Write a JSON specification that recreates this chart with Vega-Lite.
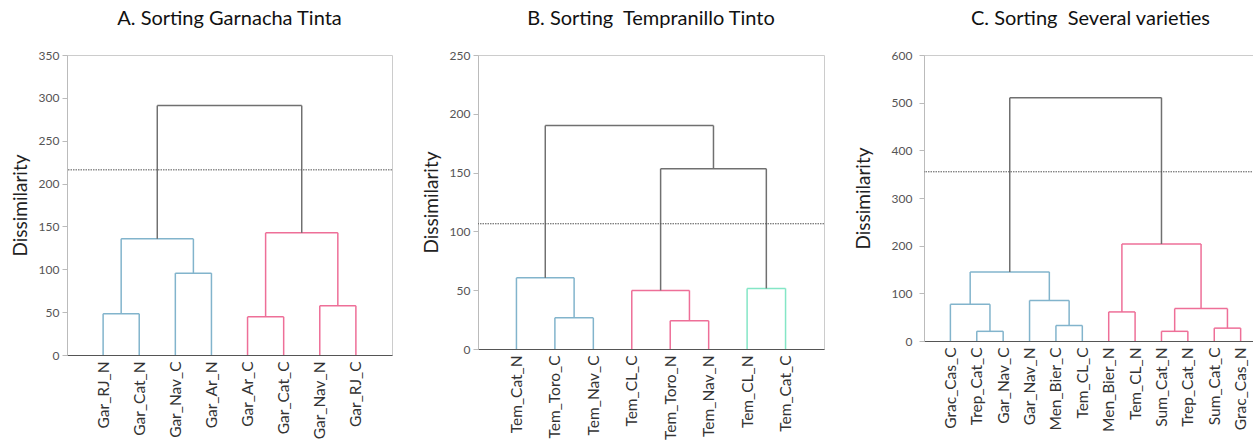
{
  "$schema": "https://vega.github.io/schema/vega-lite/v6.json",
  "padding": {"left": 10, "top": 8, "right": 0, "bottom": 0},
  "background": "white",
  "spacing": 28,
  "config": {
    "font": "Lato",
    "view": {"stroke": "#cccccc", "strokeWidth": 1},
    "title": {"fontSize": 20, "fontWeight": "normal", "color": "#111111", "offset": 20, "font": "Lato"},
    "axisY": {"grid": false, "labelColor": "#555555", "labelFontSize": 12, "tickColor": "#bbbbbb", "tickSize": 5, "domainColor": "#bbbbbb", "titleFontSize": 19, "titleFontWeight": "normal", "titleColor": "#222222", "titlePadding": 8, "labelPadding": 3},
    "axisX": {"grid": false, "ticks": false, "domainColor": "#555555", "domainWidth": 1.2, "labelAngle": 270, "labelFontSize": 15.5, "labelColor": "#333333", "labelPadding": 6, "labelOverlap": false, "title": null},
    "rule": {"strokeWidth": 1.5}
  },
  "datasets": {
    "A": [
      {"xl": 1, "xr": 2, "hl": 0, "hr": 0, "h": 48, "grp": "c1"},
      {"xl": 3, "xr": 4, "hl": 0, "hr": 0, "h": 95.5, "grp": "c1"},
      {"xl": 1.5, "xr": 3.5, "hl": 48, "hr": 95.5, "h": 135.5, "grp": "c1"},
      {"xl": 5, "xr": 6, "hl": 0, "hr": 0, "h": 44.5, "grp": "c2"},
      {"xl": 7, "xr": 8, "hl": 0, "hr": 0, "h": 57.5, "grp": "c2"},
      {"xl": 5.5, "xr": 7.5, "hl": 44.5, "hr": 57.5, "h": 142.5, "grp": "c2"},
      {"xl": 2.5, "xr": 6.5, "hl": 135.5, "hr": 142.5, "h": 291, "grp": "top"}
    ],
    "B": [
      {"xl": 2, "xr": 3, "hl": 0, "hr": 0, "h": 26.5, "grp": "c1"},
      {"xl": 1, "xr": 2.5, "hl": 0, "hr": 26.5, "h": 60.5, "grp": "c1"},
      {"xl": 5, "xr": 6, "hl": 0, "hr": 0, "h": 24, "grp": "c2"},
      {"xl": 4, "xr": 5.5, "hl": 0, "hr": 24, "h": 49.8, "grp": "c2"},
      {"xl": 7, "xr": 8, "hl": 0, "hr": 0, "h": 51.5, "grp": "c3"},
      {"xl": 4.75, "xr": 7.5, "hl": 49.8, "hr": 51.5, "h": 153.3, "grp": "top"},
      {"xl": 1.75, "xr": 6.125, "hl": 60.5, "hr": 153.3, "h": 190, "grp": "top"}
    ],
    "C": [
      {"xl": 2, "xr": 3, "hl": 0, "hr": 0, "h": 20.3, "grp": "c1"},
      {"xl": 1, "xr": 2.5, "hl": 0, "hr": 20.3, "h": 77, "grp": "c1"},
      {"xl": 5, "xr": 6, "hl": 0, "hr": 0, "h": 32.5, "grp": "c1"},
      {"xl": 4, "xr": 5.5, "hl": 0, "hr": 32.5, "h": 85, "grp": "c1"},
      {"xl": 1.75, "xr": 4.75, "hl": 77, "hr": 85, "h": 145, "grp": "c1"},
      {"xl": 7, "xr": 8, "hl": 0, "hr": 0, "h": 61, "grp": "c2"},
      {"xl": 9, "xr": 10, "hl": 0, "hr": 0, "h": 20.3, "grp": "c2"},
      {"xl": 11, "xr": 12, "hl": 0, "hr": 0, "h": 27, "grp": "c2"},
      {"xl": 9.5, "xr": 11.5, "hl": 20.3, "hr": 27, "h": 68, "grp": "c2"},
      {"xl": 7.5, "xr": 10.5, "hl": 61, "hr": 68, "h": 203.5, "grp": "c2"},
      {"xl": 3.25, "xr": 9, "hl": 145, "hr": 203.5, "h": 510.5, "grp": "top"}
    ],
    "cutA": [{"cut": 216}],
    "cutB": [{"cut": 106.5}],
    "cutC": [{"cut": 355}]
  },
  "hconcat": [
    {
      "title": "A. Sorting Garnacha Tinta",
      "width": 325,
      "height": 300,
      "layer": [
        {
          "data": {"name": "A"},
          "mark": {"type": "rule"},
          "encoding": {
            "x": {"field": "xl", "type": "quantitative", "scale": {"domain": [0, 9], "nice": false}, "axis": {"values": [1, 2, 3, 4, 5, 6, 7, 8], "tickCount": 20, "labelOverlap": false, "labelExpr": "['Gar_RJ_N','Gar_Cat_N','Gar_Nav_C','Gar_Ar_N','Gar_Ar_C','Gar_Cat_C','Gar_Nav_N','Gar_RJ_C'][datum.value-1]"}},
            "x2": {"field": "xr"},
            "y": {"field": "h", "type": "quantitative", "scale": {"domain": [0, 350], "nice": false}, "axis": {"values": [0, 50, 100, 150, 200, 250, 300, 350], "tickCount": 20, "title": "Dissimilarity"}},
            "color": {"field": "grp", "type": "nominal", "scale": {"domain": ["top", "c1", "c2", "c3"], "range": ["#707070", "#82b4cc", "#ee6f98", "#84e6c6"]}, "legend": null}
          }
        },
        {
          "data": {"name": "A"},
          "mark": {"type": "rule"},
          "encoding": {"x": {"field": "xl", "type": "quantitative"}, "y": {"field": "hl", "type": "quantitative"}, "y2": {"field": "h"}, "color": {"field": "grp", "type": "nominal"}}
        },
        {
          "data": {"name": "A"},
          "mark": {"type": "rule"},
          "encoding": {"x": {"field": "xr", "type": "quantitative"}, "y": {"field": "hr", "type": "quantitative"}, "y2": {"field": "h"}, "color": {"field": "grp", "type": "nominal"}}
        },
        {
          "data": {"name": "cutA"},
          "mark": {"type": "rule", "strokeDash": [1.5, 1], "strokeWidth": 1, "color": "#555555"},
          "encoding": {"y": {"field": "cut", "type": "quantitative"}}
        }
      ]
    },
    {
      "title": "B. Sorting \u00a0Tempranillo Tinto",
      "width": 346,
      "height": 294,
      "layer": [
        {
          "data": {"name": "B"},
          "mark": {"type": "rule"},
          "encoding": {
            "x": {"field": "xl", "type": "quantitative", "scale": {"domain": [0, 9], "nice": false}, "axis": {"values": [1, 2, 3, 4, 5, 6, 7, 8], "tickCount": 20, "labelOverlap": false, "labelExpr": "['Tem_Cat_N','Tem_Toro_C','Tem_Nav_C','Tem_CL_C','Tem_Toro_N','Tem_Nav_N','Tem_CL_N','Tem_Cat_C'][datum.value-1]"}},
            "x2": {"field": "xr"},
            "y": {"field": "h", "type": "quantitative", "scale": {"domain": [0, 250], "nice": false}, "axis": {"values": [0, 50, 100, 150, 200, 250], "tickCount": 20, "title": "Dissimilarity"}},
            "color": {"field": "grp", "type": "nominal", "scale": {"domain": ["top", "c1", "c2", "c3"], "range": ["#707070", "#82b4cc", "#ee6f98", "#84e6c6"]}, "legend": null}
          }
        },
        {
          "data": {"name": "B"},
          "mark": {"type": "rule"},
          "encoding": {"x": {"field": "xl", "type": "quantitative"}, "y": {"field": "hl", "type": "quantitative"}, "y2": {"field": "h"}, "color": {"field": "grp", "type": "nominal"}}
        },
        {
          "data": {"name": "B"},
          "mark": {"type": "rule"},
          "encoding": {"x": {"field": "xr", "type": "quantitative"}, "y": {"field": "hr", "type": "quantitative"}, "y2": {"field": "h"}, "color": {"field": "grp", "type": "nominal"}}
        },
        {
          "data": {"name": "cutB"},
          "mark": {"type": "rule", "strokeDash": [1.5, 1], "strokeWidth": 1, "color": "#555555"},
          "encoding": {"y": {"field": "cut", "type": "quantitative"}}
        }
      ]
    },
    {
      "title": "C. Sorting \u00a0Several varieties",
      "width": 333,
      "height": 286,
      "layer": [
        {
          "data": {"name": "C"},
          "mark": {"type": "rule"},
          "encoding": {
            "x": {"field": "xl", "type": "quantitative", "scale": {"domain": [0, 12.62], "nice": false}, "axis": {"values": [1, 2, 3, 4, 5, 6, 7, 8, 9, 10, 11, 12], "tickCount": 20, "labelOverlap": false, "labelExpr": "['Grac_Cas_C','Trep_Cat_C','Gar_Nav_C','Gar_Nav_N','Men_Bier_C','Tem_CL_C','Men_Bier_N','Tem_CL_N','Sum_Cat_N','Trep_Cat_N','Sum_Cat_C','Grac_Cas_N'][datum.value-1]"}},
            "x2": {"field": "xr"},
            "y": {"field": "h", "type": "quantitative", "scale": {"domain": [0, 600], "nice": false}, "axis": {"values": [0, 100, 200, 300, 400, 500, 600], "tickCount": 20, "title": "Dissimilarity", "labelPadding": 7, "titlePadding": 18}},
            "color": {"field": "grp", "type": "nominal", "scale": {"domain": ["top", "c1", "c2", "c3"], "range": ["#505050", "#82b4cc", "#ee6f98", "#84e6c6"]}, "legend": null}
          }
        },
        {
          "data": {"name": "C"},
          "mark": {"type": "rule"},
          "encoding": {"x": {"field": "xl", "type": "quantitative"}, "y": {"field": "hl", "type": "quantitative"}, "y2": {"field": "h"}, "color": {"field": "grp", "type": "nominal"}}
        },
        {
          "data": {"name": "C"},
          "mark": {"type": "rule"},
          "encoding": {"x": {"field": "xr", "type": "quantitative"}, "y": {"field": "hr", "type": "quantitative"}, "y2": {"field": "h"}, "color": {"field": "grp", "type": "nominal"}}
        },
        {
          "data": {"name": "cutC"},
          "mark": {"type": "rule", "strokeDash": [1.5, 1], "strokeWidth": 1, "color": "#555555"},
          "encoding": {"y": {"field": "cut", "type": "quantitative"}}
        }
      ]
    }
  ]
}
